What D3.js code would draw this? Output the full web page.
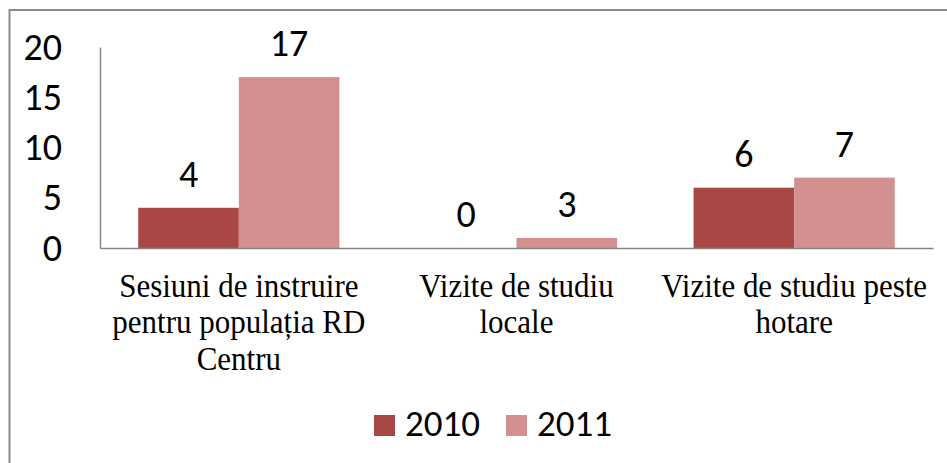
<!DOCTYPE html>
<html><head><meta charset="utf-8">
<script src="https://cdn.jsdelivr.net/npm/d3@7"></script>
<style>
html,body{margin:0;padding:0;background:#fff;}
svg{display:block;}
</style>
</head><body>
<svg id="chart" width="947" height="463"></svg>
<script>
// ---- data ----
const categories = [
  ["Sesiuni de instruire", "pentru populația RD", "Centru"],
  ["Vizite de studiu", "locale"],
  ["Vizite de studiu peste", "hotare"]
];
const seriesNames = ["2010", "2011"];
const values2010 = [4, 0, 6];
const values2011 = [17, 1, 7];          // bar heights as drawn
const labels2010 = ["4", "0", "6"];
const labels2011 = ["17", "3", "7"];    // data labels as printed
const yTicks = [0, 5, 10, 15, 20];
const colors = ["#A94745", "#D29190"];

const svg = d3.select("#chart");
const numFont = "Carlito, Lato, 'Open Sans', sans-serif";
const serifFont = "'Liberation Serif', 'Times New Roman', serif";

// outer frame (only top & left edges visible in the picture)
svg.append("rect").attr("x", 9.5).attr("y", 10).attr("width", 1000).attr("height", 1000)
  .attr("fill", "none").attr("stroke", "#8c8c8c").attr("stroke-width", 2);

const catIdx = categories.map((c, i) => i);
const x0 = d3.scaleBand().domain(catIdx).range([100, 933]).paddingInner(0).paddingOuter(0);
const x1 = d3.scaleBand().domain(seriesNames).range([0, x0.bandwidth()]).paddingInner(0).paddingOuter(0.38);
const y = d3.scaleLinear().domain([0, 20]).range([248, 47]);

// y axis
const yAxis = svg.append("g").attr("transform", "translate(100,0)")
  .call(d3.axisLeft(y).tickValues(yTicks).tickSize(0).tickPadding(38));
yAxis.select(".domain").attr("stroke", "#878787").attr("stroke-width", 1.5);
yAxis.selectAll("text").attr("font-family", numFont).attr("font-size", 38).attr("fill", "#000")
  .attr("dy", "0.32em");

const rows = [
  { name: "2010", vals: values2010, labs: labels2010, color: colors[0] },
  { name: "2011", vals: values2011, labs: labels2011, color: colors[1] }
];

rows.forEach(r => {
  const g = svg.append("g");
  g.selectAll("rect").data(r.vals).join("rect")
    .attr("x", (d, i) => x0(i) + x1(r.name))
    .attr("y", d => y(d))
    .attr("width", x1.bandwidth())
    .attr("height", d => y(0) - y(d))
    .attr("fill", r.color);
  g.selectAll("text").data(r.vals).join("text")
    .attr("x", (d, i) => x0(i) + x1(r.name) + x1.bandwidth() / 2)
    .attr("y", d => y(d) - 21)
    .attr("text-anchor", "middle")
    .attr("font-family", numFont).attr("font-size", 38).attr("fill", "#000")
    .text((d, i) => r.labs[i]);
});

// x axis baseline
const xAxis = svg.append("g").attr("transform", "translate(0,248)")
  .call(d3.axisBottom(x0).tickSize(0).tickFormat(""));
xAxis.select(".domain").attr("stroke", "#878787").attr("stroke-width", 1.5);

// category labels
categories.forEach((lines, i) => {
  const cx = x0(i) + x0.bandwidth() / 2;
  const t = svg.append("text")
    .attr("transform", `translate(${cx},297) scale(1,1.07)`)
    .attr("text-anchor", "middle")
    .attr("font-family", serifFont).attr("font-size", 31).attr("fill", "#000");
  lines.forEach((ln, k) => {
    t.append("tspan").attr("x", 0).attr("y", k * 36.5 / 1.07).text(ln);
  });
});

// legend
const legendX = [374, 506];
seriesNames.forEach((s, i) => {
  svg.append("rect").attr("x", legendX[i]).attr("y", 415).attr("width", 21).attr("height", 21)
    .attr("fill", colors[i]);
  svg.append("text").attr("x", legendX[i] + 31).attr("y", 436)
    .attr("font-family", numFont).attr("font-size", 37).attr("fill", "#000").text(s);
});
</script>
</body></html>
